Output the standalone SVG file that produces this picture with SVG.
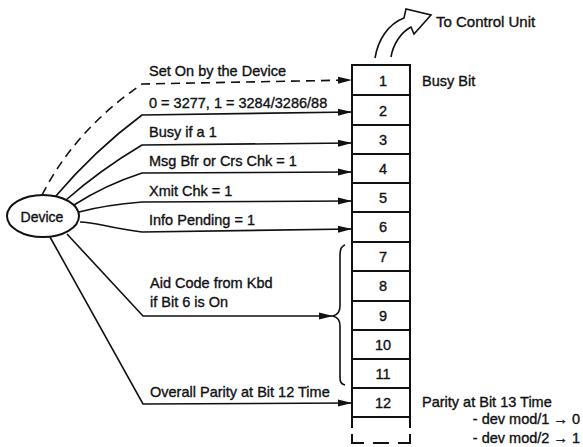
<svg xmlns="http://www.w3.org/2000/svg" width="583" height="447" viewBox="0 0 583 447">
<style>
  text { font-family: "Liberation Sans", Arial, sans-serif; font-size: 14.5px; fill: #111; stroke: #111; stroke-width: 0.35; }
  .num { text-anchor: middle; }
  .end { text-anchor: end; }
  .cell { fill: #fff; stroke: #111; stroke-width: 2; }
  .wire { fill: none; stroke: #111; stroke-width: 1.6; }
  .dash { fill: none; stroke: #111; stroke-width: 1.6; stroke-dasharray: 9 6; }
  .edge { fill: none; stroke: #111; stroke-width: 2; }
</style>
<defs>
  <marker id="ah" markerUnits="userSpaceOnUse" markerWidth="15" markerHeight="9" refX="14" refY="4.5" orient="auto">
    <path d="M0,1 L14,4.5 L0,8 Z" fill="#111"/>
  </marker>
</defs>
<rect width="583" height="447" fill="#fff"/>

<g id="connectors">
  <path class="dash" d="M42,195 Q75,130 142,84 L352,80" marker-end="url(#ah)"/>
  <path class="wire" d="M55,197 Q95,150 142,115 L352,112" marker-end="url(#ah)"/>
  <path class="wire" d="M66,200 Q100,170 142,145 L352,143" marker-end="url(#ah)"/>
  <path class="wire" d="M74,205 Q105,185 142,173 L352,172" marker-end="url(#ah)"/>
  <path class="wire" d="M79,212 Q105,205 142,202 L352,201" marker-end="url(#ah)"/>
  <path class="wire" d="M80,222 C96,222 108,228 142,232 L352,229" marker-end="url(#ah)"/>
  <path class="wire" d="M67,234 L143,316 L333,316" marker-end="url(#ah)"/>
  <path class="wire" d="M50,237 L143,404 L352,403" marker-end="url(#ah)"/>
  <path class="wire" d="M375,58 C378,40 388,24 404,18 L406,9 L431,15 L414,34 L411,27 C400,33 393,45 391,57"/>
  <path class="wire" d="M345,245 C341,246 340,249 340,255 L340,306 C340,312 337,315 333,316 C337,317 340,320 340,326 L340,377 C340,382 341,384 345,385"/>
</g>

<g id="device">
  <ellipse cx="43" cy="216" rx="36" ry="21" fill="#fff" stroke="#111" stroke-width="2"/>
  <text x="42" y="222" class="num" style="font-size:14px">Device</text>
</g>

<g id="register">
  <g id="bit1"><rect class="cell" x="352" y="65" width="58" height="30"/><text class="num" x="383" y="86">1</text></g>
  <g id="bit2"><rect class="cell" x="352" y="95" width="58" height="30"/><text class="num" x="383" y="116">2</text></g>
  <g id="bit3"><rect class="cell" x="352" y="125" width="58" height="29"/><text class="num" x="383" y="145">3</text></g>
  <g id="bit4"><rect class="cell" x="352" y="154" width="58" height="29"/><text class="num" x="383" y="174">4</text></g>
  <g id="bit5"><rect class="cell" x="352" y="183" width="58" height="29"/><text class="num" x="383" y="203">5</text></g>
  <g id="bit6"><rect class="cell" x="352" y="212" width="58" height="30"/><text class="num" x="383" y="232">6</text></g>
  <g id="bit7"><rect class="cell" x="352" y="242" width="58" height="29"/><text class="num" x="383" y="262">7</text></g>
  <g id="bit8"><rect class="cell" x="352" y="271" width="58" height="30"/><text class="num" x="383" y="291">8</text></g>
  <g id="bit9"><rect class="cell" x="352" y="301" width="58" height="29"/><text class="num" x="383" y="321">9</text></g>
  <g id="bit10"><rect class="cell" x="352" y="330" width="58" height="29"/><text class="num" x="383" y="350">10</text></g>
  <g id="bit11"><rect class="cell" x="352" y="359" width="58" height="29"/><text class="num" x="383" y="379">11</text></g>
  <g id="bit12"><rect class="cell" x="352" y="388" width="58" height="29"/><text class="num" x="383" y="408">12</text></g>
  <g id="bit13">
    <path class="edge" d="M352,417 V428 M410,417 V428"/>
    <path class="edge" d="M352,434 V443 H364 M373,443 H389 M398,443 H410 V434"/>
  </g>
</g>

<g id="labels">
  <text x="149" y="76">Set On by the Device</text>
  <text x="149" y="108">0 = 3277, 1 = 3284/3286/88</text>
  <text x="149" y="137">Busy if a 1</text>
  <text x="149" y="166">Msg Bfr or Crs Chk = 1</text>
  <text x="149" y="196">Xmit Chk = 1</text>
  <text x="149" y="225">Info Pending = 1</text>
  <text x="150" y="288">Aid Code from Kbd</text>
  <text x="150" y="307">if Bit 6 is On</text>
  <text x="150" y="397">Overall Parity at Bit 12 Time</text>
  <text x="436" y="27" style="font-size:15px">To Control Unit</text>
  <text x="422" y="86">Busy Bit</text>
  <text x="422" y="407">Parity at Bit 13 Time</text>
  <text class="end" x="580" y="424">- dev mod/1 → 0</text>
  <text class="end" x="580" y="443">- dev mod/2 → 1</text>
</g>
</svg>
